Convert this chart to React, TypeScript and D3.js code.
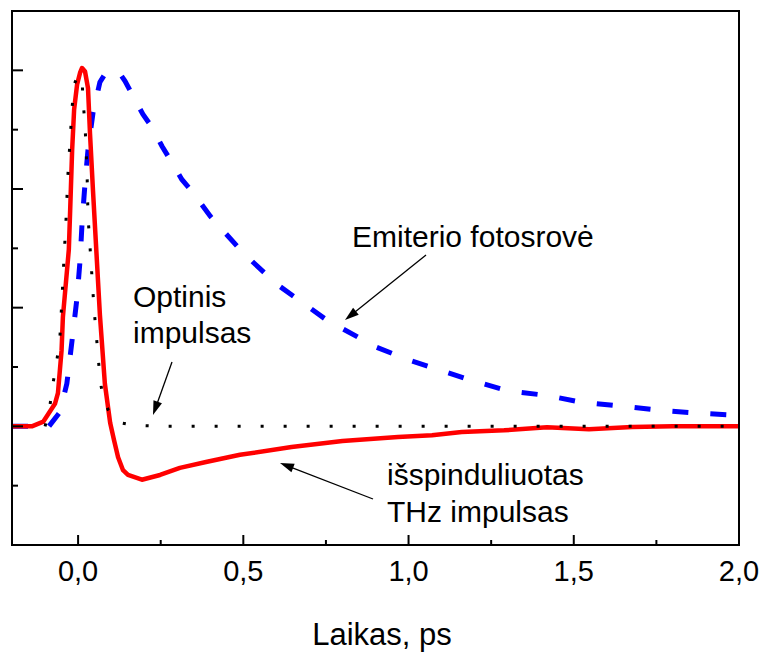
import React from "react";
import * as d3 from "d3";

// time (ps), amplitude (arb. units)
const thzPulse: [number, number][] = [
  [-0.2, 0], [-0.14, 0], [-0.105, 0.04], [-0.07, 0.19], [-0.061, 0.28], [-0.05, 0.64],
  [-0.046, 0.92], [-0.028, 1.49], [-0.024, 1.82], [-0.018, 2.33], [-0.012, 2.67],
  [-0.003, 2.88], [0.006, 2.98], [0.012, 3.02], [0.021, 2.99], [0.03, 2.85],
  [0.036, 2.47], [0.045, 1.99], [0.057, 1.39], [0.066, 0.94], [0.081, 0.36],
  [0.097, 0.03], [0.109, -0.12], [0.121, -0.26], [0.136, -0.37], [0.151, -0.41],
  [0.193, -0.45], [0.248, -0.41], [0.308, -0.35], [0.387, -0.3], [0.49, -0.24],
  [0.646, -0.175], [0.8, -0.124], [0.968, -0.09], [1.071, -0.076], [1.161, -0.048],
  [1.289, -0.034], [1.419, -0.008], [1.546, -0.025], [1.676, -0.006], [1.8, 0], [2.0, 0],
];

const photocurrent: [number, number][] = [
  [-0.2, 0], [-0.1, 0], [-0.091, -0.01], [-0.055, 0.12], [-0.034, 0.36], [-0.018, 0.73],
  [-0.003, 1.09], [0.006, 1.4], [0.012, 1.71], [0.021, 2.05], [0.03, 2.33],
  [0.045, 2.64], [0.066, 2.9], [0.084, 2.98], [0.106, 3.0], [0.127, 2.97],
  [0.142, 2.91], [0.163, 2.8], [0.196, 2.63], [0.224, 2.52], [0.254, 2.36],
  [0.278, 2.25], [0.314, 2.08], [0.345, 1.98], [0.4, 1.77], [0.5, 1.46], [0.6, 1.2],
  [0.75, 0.9], [0.9, 0.67], [1.0, 0.56], [1.186, 0.39], [1.3, 0.3], [1.418, 0.26],
  [1.52, 0.205], [1.646, 0.17], [1.76, 0.135], [1.88, 0.11], [2.0, 0.093],
];

const opticalPulse: [number, number][] = [
  [-0.1, 0], [-0.095, 0.05], [-0.085, 0.18], [-0.076, 0.36], [-0.064, 0.56],
  [-0.055, 0.75], [-0.049, 1.06], [-0.043, 1.4], [-0.037, 1.71], [-0.031, 2.11],
  [-0.024, 2.42], [-0.018, 2.69], [-0.012, 2.88], [0.0, 2.96], [0.012, 2.93],
  [0.015, 2.74], [0.021, 2.54], [0.027, 2.15], [0.03, 1.77], [0.039, 1.39],
  [0.048, 1.0], [0.06, 0.61], [0.066, 0.41], [0.075, 0.24], [0.091, 0.14],
  [0.103, 0.08], [0.127, 0.03], [0.166, 0.01], [0.25, 0], [2.0, 0],
];

const xMajorTicks = [0, 0.5, 1.0, 1.5, 2.0];
const xTickLabels = ["0,0", "0,5", "1,0", "1,5", "2,0"];
const xMinorTicks = [0.25, 0.75, 1.25, 1.75];
const yMajorTicks = [0, 1, 2, 3];
const yMinorTicks = [-0.5, 0.5, 1.5, 2.5];
const xTitle = "Laikas, ps";

const FONT = "'Liberation Sans', Arial, sans-serif";

function Arrow({ x1, y1, x2, y2 }: { x1: number; y1: number; x2: number; y2: number }) {
  const dx = x2 - x1;
  const dy = y2 - y1;
  const len = Math.hypot(dx, dy);
  const ux = dx / len;
  const uy = dy / len;
  const hl = 14;
  const hw = 4.5;
  const bx = x2 - ux * hl;
  const by = y2 - uy * hl;
  const px = -uy;
  const py = ux;
  const pts = `${x2},${y2} ${bx + px * hw},${by + py * hw} ${bx - px * hw},${by - py * hw}`;
  return (
    <g>
      <line x1={x1} y1={y1} x2={bx + ux * 2} y2={by + uy * 2} stroke="#000" strokeWidth={1.3} />
      <polygon points={pts} fill="#000" />
    </g>
  );
}

export default function App() {
  const left = 12, right = 739, top = 11, bottom = 545;
  const x = d3.scaleLinear().domain([-0.2, 2.0]).range([left, right]);
  const y = d3.scaleLinear().domain([-1, 3.5]).range([bottom, top]);
  const line = d3
    .line<[number, number]>()
    .x((d) => x(d[0]))
    .y((d) => y(d[1]))
    .curve(d3.curveLinear);

  return (
    <svg
      width={761}
      height={654}
      style={{ position: "absolute", left: 0, top: 0, background: "#fff" }}
      fontFamily={FONT}
    >
      <rect x={0} y={0} width={761} height={654} fill="#fff" />
      <defs>
        <clipPath id="plotclip">
          <rect x={left} y={top} width={right - left} height={bottom - top} />
        </clipPath>
      </defs>
      <g clipPath="url(#plotclip)">
        <path
          d={line(photocurrent) || ""}
          fill="none"
          stroke="#0000ff"
          strokeWidth={5}
          strokeDasharray="16 22"
        />
        <path
          d={line(thzPulse) || ""}
          fill="none"
          stroke="#ff0000"
          strokeWidth={4.5}
          strokeLinejoin="round"
        />
        <path
          d={line(opticalPulse) || ""}
          fill="none"
          stroke="#000"
          strokeWidth={3}
          strokeDasharray="3 20"
        />
      </g>

      {/* frame */}
      <rect x={left} y={top} width={right - left} height={bottom - top} fill="none" stroke="#000" strokeWidth={2} />

      {/* x ticks */}
      {xMajorTicks.map((t, i) => (
        <g key={"xm" + i}>
          <line x1={x(t)} x2={x(t)} y1={bottom} y2={bottom - 10} stroke="#000" strokeWidth={2} />
          <text x={x(t)} y={581} textAnchor="middle" fontSize={29} fill="#000">
            {xTickLabels[i]}
          </text>
        </g>
      ))}
      {xMinorTicks.map((t, i) => (
        <line key={"xn" + i} x1={x(t)} x2={x(t)} y1={bottom} y2={bottom - 5} stroke="#000" strokeWidth={2} />
      ))}
      {/* y ticks */}
      {yMajorTicks.map((v, i) => (
        <line key={"ym" + i} x1={left} x2={left + 11} y1={y(v)} y2={y(v)} stroke="#000" strokeWidth={2} />
      ))}
      {yMinorTicks.map((v, i) => (
        <line key={"yn" + i} x1={left} x2={left + 6} y1={y(v)} y2={y(v)} stroke="#000" strokeWidth={2} />
      ))}

      <text x={382} y={645} textAnchor="middle" fontSize={31} fill="#000">
        {xTitle}
      </text>

      {/* annotations */}
      <text x={352} y={247} fontSize={30} fill="#000">Emiterio fotosrovė</text>
      <Arrow x1={426} y1={255} x2={345} y2={320} />

      <text x={133} y={307} fontSize={30} fill="#000">Optinis</text>
      <text x={133} y={343} fontSize={30} fill="#000">impulsas</text>
      <Arrow x1={172} y1={362} x2={153} y2={415} />

      <text x={387} y={485} fontSize={30} fill="#000">išspinduliuotas</text>
      <text x={387} y={522} fontSize={30} fill="#000">THz impulsas</text>
      <Arrow x1={373} y1={499} x2={280} y2={463} />
    </svg>
  );
}
